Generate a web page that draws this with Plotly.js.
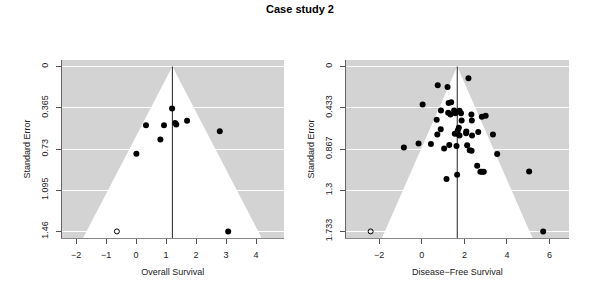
<!DOCTYPE html>
<html>
<head>
<meta charset="utf-8">
<script src="https://cdn.plot.ly/plotly-3.0.1.min.js"></script>
<style>html,body{margin:0;padding:0;background:#fff;}#chart{width:600px;height:300px;}</style>
</head>
<body>
<div id="chart"></div>
<script>
// ---- Data: Overall Survival (left panel) ----
const osEstimate = 1.21;
const osEffect = [3.07, 1.20, 0.33, 0.93, 1.30, 1.34, 1.70, 2.79, 0.81, 0.01];
const osSE     = [1.46, 0.371, 0.52, 0.52, 0.50, 0.514, 0.48, 0.573, 0.645, 0.772];
const osFilledEffect = [-0.64];
const osFilledSE     = [1.46];
const osTickVals = [0, 0.365, 0.73, 1.095, 1.46];
const osTickText = ["0", "0.365", "0.73", "1.095", "1.46"];
const osXTicks = [-2, -1, 0, 1, 2, 3, 4];

// ---- Data: Disease-Free Survival (right panel) ----
const dfsEstimate = 1.665;
const dfsEffect = [5.70, 2.19, 0.75, 1.21, 0.04, 1.26, 1.38, 0.90, 1.24, 1.35,
                   1.52, 1.57, 1.77, 1.84, 0.70, 1.87, 2.33, 2.35, 2.82, 3.00,
                   0.89, 1.74, 1.69, 2.09, 2.08, 2.65, 0.73, 1.55, 1.68, 1.77,
                   2.36, 3.34, -0.84, -0.15, 0.43, 1.05, 1.29, 1.63, 2.13, 2.25,
                   2.34, 3.54, 2.60, 2.75, 2.83, 2.91, 5.04, 1.66, 1.16];
const dfsSE     = [1.733, 0.124, 0.196, 0.216, 0.398, 0.384, 0.374, 0.463, 0.486, 0.504,
                   0.461, 0.49, 0.465, 0.49, 0.56, 0.567, 0.504, 0.567, 0.528, 0.517,
                   0.658, 0.642, 0.672, 0.682, 0.70, 0.687, 0.713, 0.707, 0.707, 0.725,
                   0.724, 0.715, 0.85, 0.81, 0.815, 0.862, 0.824, 0.836, 0.828, 0.88,
                   0.886, 0.918, 1.042, 1.106, 1.106, 1.106, 1.104, 1.137, 1.183];
const dfsFilledEffect = [-2.40];
const dfsFilledSE     = [1.733];
const dfsTickVals = [0, 0.433, 0.867, 1.3, 1.733];
const dfsTickText = ["0", "0.433", "0.867", "1.3", "1.733"];
const dfsXTicks = [-2, 0, 2, 4, 6];

// ---- Build traces ----
function funnelTraces(est, eff, se, fEff, fSe, seMax, xa, ya) {
  const z = 1.96;
  return [
    { x: [est - z*seMax, est, est + z*seMax], y: [seMax, 0, seMax],
      type: 'scatter', mode: 'lines', fill: 'toself', fillcolor: '#ffffff',
      line: {width: 0, color: 'rgba(0,0,0,0)'}, hoverinfo: 'skip', xaxis: xa, yaxis: ya },
    { x: [est, est], y: [0, seMax], type: 'scatter', mode: 'lines',
      line: {color: '#222', width: 1}, xaxis: xa, yaxis: ya },
    { x: eff, y: se, type: 'scatter', mode: 'markers',
      marker: {color: '#000', size: 6}, xaxis: xa, yaxis: ya },
    { x: fEff, y: fSe, type: 'scatter', mode: 'markers',
      marker: {symbol: 'circle-open', color: '#000', size: 5, line: {width: 1, color: '#000'}},
      xaxis: xa, yaxis: ya }
  ];
}

const osYMax = 1.5184, osYMin = -0.0584;
const dfsYMax = 1.802, dfsYMin = -0.069;

const data = [].concat(
  funnelTraces(osEstimate, osEffect, osSE, osFilledEffect, osFilledSE, osYMax, 'x', 'y'),
  funnelTraces(dfsEstimate, dfsEffect, dfsSE, dfsFilledEffect, dfsFilledSE, dfsYMax, 'x2', 'y2')
);

const fontFam = 'Liberation Sans, Arial, sans-serif';
const tickFont = {family: fontFam, size: 9, color: '#222'};

function xAxis(domain, range, ticks, title, anchor) {
  return {
    domain: domain, range: range, anchor: anchor,
    tickmode: 'array', tickvals: ticks, ticktext: ticks.map(v => v < 0 ? '\u2212' + Math.abs(v) : String(v)),
    ticks: 'outside', ticklen: 5, tickcolor: '#555', tickwidth: 1,
    showgrid: false, zeroline: false, showline: true, linecolor: '#888', linewidth: 1,
    tickfont: tickFont, ticklabelstandoff: 3,
    title: {text: title, font: {family: fontFam, size: 9, color: '#222'}, standoff: 9}
  };
}
function yAxis(domain, range, vals, text, anchor) {
  return {
    domain: domain, range: range, anchor: anchor,
    tickmode: 'array', tickvals: vals, ticktext: text, tickangle: -90,
    ticks: 'outside', ticklen: 5, tickcolor: '#555', tickwidth: 1,
    showgrid: true, gridcolor: '#ffffff', gridwidth: 1,
    zeroline: false, showline: true, linecolor: '#666', linewidth: 1,
    tickfont: tickFont, ticklabelstandoff: 4,
    title: {text: 'Standard Error', font: {family: fontFam, size: 9, color: '#222'}, standoff: 7}
  };
}

const layout = {
  width: 600, height: 300,
  margin: {l: 0, r: 0, t: 0, b: 0},
  paper_bgcolor: '#ffffff', plot_bgcolor: '#d3d3d3',
  showlegend: false,
  title: {text: '<b>Case study 2</b>', x: 0.5, xanchor: 'center', y: 0.968, yanchor: 'middle',
          font: {family: fontFam, size: 11, color: '#000'}},
  xaxis: xAxis([0.1028, 0.4733], [-2.48, 4.93], osXTicks, 'Overall Survival', 'y'),
  yaxis: yAxis([0.2067, 0.8], [osYMax, osYMin], osTickVals, osTickText, 'x'),
  xaxis2: xAxis([0.5762, 0.9483], [-3.57, 6.91], dfsXTicks, 'Disease\u2212Free Survival', 'y2'),
  yaxis2: yAxis([0.2067, 0.8], [dfsYMax, dfsYMin], dfsTickVals, dfsTickText, 'x2')
};

Plotly.newPlot('chart', data, layout, {staticPlot: true, displayModeBar: false});
</script>
</body>
</html>
